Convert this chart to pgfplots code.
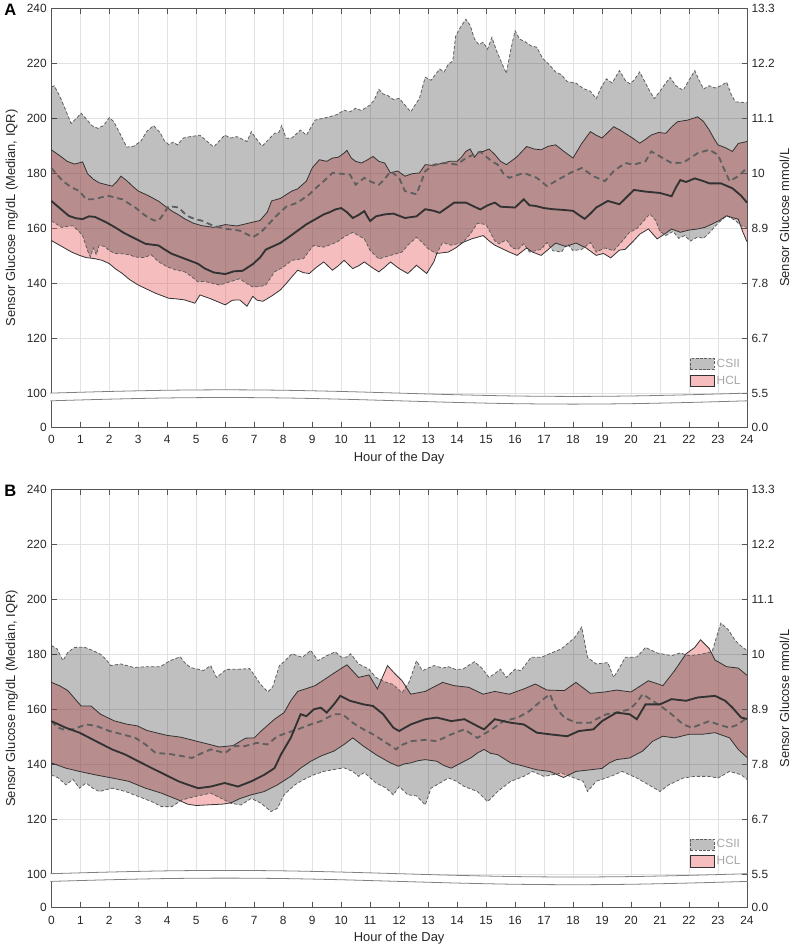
\documentclass[border=0pt]{standalone}
\usepackage{fontspec}
\setmainfont{Liberation Sans}
\usepackage{pgfplots}
\usepackage{pgfplotstable}
\pgfplotsset{compat=1.18}
\usepgfplotslibrary{fillbetween}

\definecolor{txt}{RGB}{38,38,38}
\definecolor{axcol}{RGB}{85,85,85}
\definecolor{gridc}{RGB}{226,226,226}
\definecolor{csiiline}{RGB}{95,95,95}
\definecolor{hclline}{RGB}{50,50,50}
\definecolor{hclfill}{RGB}{230,90,90}
\definecolor{hclpatch}{RGB}{245,189,189}
\definecolor{csiipatch}{RGB}{191,191,191}
\definecolor{legtxt}{RGB}{165,165,165}

% ---- panel A ----
\pgfplotstableread[row sep=\\]{x y\\
0 211.5\\ 0.1 212\\ 0.3 208\\ 0.5 203\\ 0.68 198.3\\ 0.85 200\\ 1.03 202\\ 1.2 200\\ 1.4 197.5\\ 1.6 196.5\\ 1.8 197.5\\ 2.0 200.4\\ 2.15 199\\ 2.35 195\\ 2.6 189.7\\ 2.85 190\\ 3.1 192\\ 3.3 195.5\\ 3.53 197.5\\ 3.75 195\\ 3.9 192\\ 4.05 190.6\\ 4.2 191.5\\ 4.35 190.5\\ 4.56 193\\ 4.8 193.5\\ 5.13 194\\ 5.35 192\\ 5.6 189.7\\ 5.8 192\\ 5.98 194\\ 6.2 193\\ 6.4 193.5\\ 6.6 192.5\\ 6.75 191.7\\ 6.9 195.3\\ 7.05 193\\ 7.27 190\\ 7.5 192.5\\ 7.7 194.7\\ 7.85 195\\ 7.95 197.5\\ 8.1 192.9\\ 8.3 193\\ 8.6 195.9\\ 8.8 194\\ 9.1 199.5\\ 9.3 200\\ 9.6 200.7\\ 9.85 201.5\\ 10.1 203.1\\ 10.3 202.5\\ 10.5 203.8\\ 10.7 203\\ 11.0 205\\ 11.15 207\\ 11.3 210.7\\ 11.45 209\\ 11.6 208.5\\ 11.8 207\\ 12.0 207.4\\ 12.2 205\\ 12.4 202.5\\ 12.55 205\\ 12.7 207.4\\ 12.9 215.1\\ 13.1 214\\ 13.4 218.1\\ 13.55 217\\ 13.7 219.9\\ 13.85 221\\ 13.95 230\\ 14.1 233\\ 14.3 236.2\\ 14.45 234\\ 14.6 229\\ 14.75 227\\ 14.9 227.8\\ 15.05 225.3\\ 15.2 229.6\\ 15.35 225\\ 15.55 220\\ 15.7 216.5\\ 15.85 225\\ 16.0 232\\ 16.15 229\\ 16.35 228\\ 16.55 226.5\\ 16.75 226\\ 16.95 222\\ 17.15 220\\ 17.4 217\\ 17.6 216\\ 17.8 213.5\\ 18.1 213\\ 18.35 211\\ 18.6 210\\ 18.8 207.3\\ 18.95 211\\ 19.15 214.5\\ 19.35 213\\ 19.6 217.5\\ 19.8 214\\ 19.96 212.7\\ 20.1 214\\ 20.3 217\\ 20.5 213\\ 20.65 210\\ 20.8 207.3\\ 21.0 210\\ 21.2 213\\ 21.35 215\\ 21.55 212\\ 21.8 210.3\\ 22.0 214\\ 22.2 217.5\\ 22.35 214\\ 22.5 210.8\\ 22.7 212\\ 22.9 211.2\\ 23.1 212\\ 23.3 213.3\\ 23.45 209\\ 23.6 206.1\\ 23.8 206\\ 24 205.8\\
}\cuA

\pgfplotstableread[row sep=\\]{x y\\
0 182.1\\ 0.4 177.3\\ 0.7 175\\ 0.97 173.7\\ 1.2 170.7\\ 1.5 170.7\\ 1.75 171.5\\ 2.0 171.9\\ 2.2 171.3\\ 2.45 170.7\\ 2.7 169\\ 2.9 167.7\\ 3.15 165.5\\ 3.35 164\\ 3.55 163\\ 3.7 162.9\\ 3.85 165\\ 4.05 168.3\\ 4.2 168\\ 4.4 167.7\\ 4.55 166\\ 4.7 164.6\\ 4.95 163.5\\ 5.2 162.9\\ 5.6 161\\ 6.0 160\\ 6.5 159.3\\ 6.75 158\\ 6.95 156.9\\ 7.2 158.5\\ 7.4 160.5\\ 7.7 164\\ 7.9 166\\ 8.1 168\\ 8.5 169.5\\ 8.9 172.5\\ 9.15 175\\ 9.4 177.3\\ 9.7 180.3\\ 10.0 180\\ 10.3 179.7\\ 10.5 176\\ 10.8 178.5\\ 11.05 177\\ 11.3 176\\ 11.5 178\\ 11.7 180.9\\ 12.0 178.5\\ 12.2 173.7\\ 12.6 172.5\\ 12.9 180.9\\ 13.2 183.3\\ 13.6 183.9\\ 14.0 183.3\\ 14.3 185.7\\ 14.8 188\\ 15.2 184.5\\ 15.4 183.3\\ 15.6 180\\ 15.8 178.5\\ 16.3 180.3\\ 16.75 178.5\\ 17.1 175.5\\ 17.4 177.3\\ 17.9 180.3\\ 18.3 182.1\\ 18.7 179.1\\ 19.1 177.3\\ 19.4 180.9\\ 19.8 183.9\\ 20.1 183.3\\ 20.5 184.5\\ 20.7 188.1\\ 21.1 185.7\\ 21.4 183.9\\ 21.8 184\\ 22.3 187.5\\ 22.7 188.7\\ 23.0 186.9\\ 23.2 182\\ 23.4 177.3\\ 23.7 179.1\\ 24 182.1\\
}\cmA

\pgfplotstableread[row sep=\\]{x y\\
0 162.9\\ 0.35 160.5\\ 0.74 161.1\\ 0.95 159\\ 1.08 157.5\\ 1.25 152\\ 1.35 149.7\\ 1.45 153\\ 1.55 150.5\\ 1.65 154\\ 1.85 153.5\\ 2.0 152\\ 2.2 151\\ 2.45 150.9\\ 2.7 150.5\\ 2.9 149.7\\ 3.2 149.5\\ 3.45 150.5\\ 3.7 148\\ 4.0 146.1\\ 4.3 145\\ 4.6 144.3\\ 4.85 142.5\\ 5.05 140.7\\ 5.3 140.8\\ 5.8 139.5\\ 6.1 140.5\\ 6.5 141.8\\ 6.75 140\\ 6.95 138.8\\ 7.2 139\\ 7.4 139.5\\ 7.7 144.3\\ 8.0 146\\ 8.3 148.5\\ 8.7 149.1\\ 8.9 152\\ 9.05 153.9\\ 9.4 153.3\\ 9.85 155.1\\ 10.1 157\\ 10.4 158.7\\ 10.8 156.3\\ 11.0 152.1\\ 11.3 149\\ 11.7 150.3\\ 12.1 151.5\\ 12.3 154\\ 12.6 156.9\\ 12.8 155\\ 13.0 152.7\\ 13.3 150.9\\ 13.5 155\\ 13.8 154\\ 14.2 155\\ 14.45 158\\ 14.7 162\\ 15.0 161.5\\ 15.3 155.6\\ 15.45 154.5\\ 15.7 156\\ 15.9 153\\ 16.1 152.5\\ 16.3 154.5\\ 16.5 151.5\\ 16.9 152.5\\ 17.1 155\\ 17.3 152\\ 17.6 151.5\\ 17.8 154.5\\ 18.0 152\\ 18.3 152.5\\ 18.6 155\\ 18.8 151.5\\ 19.1 153\\ 19.4 152\\ 19.7 155.5\\ 19.95 158.7\\ 20.2 160\\ 20.45 163\\ 20.65 165.4\\ 20.85 163\\ 21.0 159\\ 21.2 157.5\\ 21.45 159\\ 21.65 156.5\\ 21.85 157.5\\ 22.05 155.5\\ 22.3 157\\ 22.5 156.5\\ 22.75 159\\ 23.0 162\\ 23.3 164.7\\ 23.6 163\\ 23.8 161\\ 24 160.5\\
}\clA

\pgfplotstableread[row sep=\\]{x y\\
0 188.7\\ 0.3 186.5\\ 0.55 184.5\\ 0.8 183.5\\ 1.08 184.3\\ 1.25 180\\ 1.45 178\\ 1.65 176.7\\ 1.9 176\\ 2.1 175.5\\ 2.25 177\\ 2.4 179.1\\ 2.6 177.5\\ 2.8 175.5\\ 3.0 173.7\\ 3.35 172\\ 3.7 170\\ 3.95 168\\ 4.15 166.5\\ 4.4 165\\ 4.6 163.6\\ 4.9 162\\ 5.2 161.1\\ 5.6 160.5\\ 6.0 161.5\\ 6.4 161\\ 6.8 162\\ 7.2 163\\ 7.45 166\\ 7.6 170.1\\ 7.9 171\\ 8.3 173.7\\ 8.5 174.5\\ 8.8 177.3\\ 9.0 182.1\\ 9.25 185.1\\ 9.5 184.5\\ 9.7 185.7\\ 9.9 186\\ 10.1 187.5\\ 10.2 188.5\\ 10.35 185.7\\ 10.5 184.5\\ 10.7 183.9\\ 10.9 185\\ 11.1 186.3\\ 11.3 184.5\\ 11.5 183.9\\ 11.7 180.3\\ 11.95 181\\ 12.2 179.1\\ 12.45 180\\ 12.7 180.3\\ 12.9 183.3\\ 13.2 183\\ 13.5 183.9\\ 13.75 184.5\\ 14.0 184.5\\ 14.15 186\\ 14.3 188.1\\ 14.45 189\\ 14.6 186\\ 14.75 188\\ 14.9 188.1\\ 15.1 189\\ 15.3 187\\ 15.5 184.5\\ 15.7 183.3\\ 16.05 186\\ 16.4 189.9\\ 16.65 189\\ 16.9 188.7\\ 17.15 190\\ 17.4 190.5\\ 17.7 188\\ 18.0 185.7\\ 18.3 191\\ 18.6 195.3\\ 18.8 194\\ 19.0 193\\ 19.2 195\\ 19.4 197.1\\ 19.6 196\\ 19.8 194.7\\ 20.05 193\\ 20.3 191.1\\ 20.5 192.5\\ 20.7 194.1\\ 20.95 195\\ 21.2 194.7\\ 21.4 197\\ 21.6 198.9\\ 21.95 199.5\\ 22.3 200.7\\ 22.5 199\\ 22.7 195.9\\ 22.85 193\\ 23.0 190.5\\ 23.25 189.5\\ 23.5 188.1\\ 23.7 191\\ 24 191.7\\
}\huA

\pgfplotstableread[row sep=\\]{x y\\
0 170.1\\ 0.2 168.3\\ 0.6 164.7\\ 0.85 163.8\\ 1.08 163.5\\ 1.3 164.5\\ 1.5 164.3\\ 1.9 162.3\\ 2.2 160.5\\ 2.5 158.5\\ 2.8 156.9\\ 3.25 154.5\\ 3.7 153.9\\ 3.9 152.5\\ 4.15 150.9\\ 4.6 149.1\\ 5.05 147.3\\ 5.3 145.5\\ 5.6 144.1\\ 6.0 143.5\\ 6.3 144.5\\ 6.6 144.7\\ 6.95 147.1\\ 7.2 149.5\\ 7.4 152.4\\ 7.9 154.8\\ 8.2 157\\ 8.5 159.3\\ 8.8 161.6\\ 9.1 163.4\\ 9.4 165.2\\ 9.6 166\\ 9.8 167\\ 10.0 167.5\\ 10.2 166\\ 10.4 163.9\\ 10.6 165\\ 10.8 166.4\\ 10.9 164.5\\ 11.0 162.8\\ 11.2 164.5\\ 11.5 165.2\\ 11.8 165.5\\ 12.2 163.9\\ 12.6 164.5\\ 12.9 167.1\\ 13.2 166.5\\ 13.4 165.8\\ 13.7 168\\ 13.9 169.5\\ 14.3 169.5\\ 14.6 168\\ 14.8 167\\ 15.05 168.5\\ 15.3 169.5\\ 15.5 168\\ 16.0 167.7\\ 16.3 170.7\\ 16.5 168.5\\ 16.7 168.3\\ 17.0 167.5\\ 17.3 167.1\\ 17.7 166.8\\ 18.0 166.5\\ 18.2 165\\ 18.4 163.6\\ 18.6 165.5\\ 18.8 167.7\\ 19.2 170.1\\ 19.6 168.9\\ 19.85 171.5\\ 20.1 174.1\\ 20.5 173.5\\ 21.0 173\\ 21.4 171.8\\ 21.55 175\\ 21.7 177.7\\ 21.9 177\\ 22.2 178.3\\ 22.5 177.3\\ 22.7 176.5\\ 23.1 176.5\\ 23.5 174.7\\ 23.8 172\\ 24 169.5\\
}\hmA

\pgfplotstableread[row sep=\\]{x y\\
0 155.7\\ 0.4 153.3\\ 0.7 151.5\\ 0.97 150.3\\ 1.2 149.5\\ 1.5 149.1\\ 1.75 148.5\\ 2.0 147.3\\ 2.2 145.5\\ 2.45 143.7\\ 2.7 141.5\\ 3.0 139.5\\ 3.3 138\\ 3.6 136.5\\ 4.05 134.7\\ 4.3 134.5\\ 4.6 134.1\\ 4.95 132.9\\ 5.13 135.9\\ 5.5 134.5\\ 6.0 132.3\\ 6.25 134\\ 6.5 134.1\\ 6.75 131.8\\ 6.95 135.4\\ 7.1 134\\ 7.3 133.6\\ 7.6 135.5\\ 7.9 137.7\\ 8.1 140\\ 8.3 142.5\\ 8.5 144.9\\ 8.7 144\\ 8.9 143.7\\ 9.15 146\\ 9.4 147.9\\ 9.7 144.9\\ 9.9 146.5\\ 10.1 148.5\\ 10.4 145.5\\ 10.6 146.5\\ 10.8 147.9\\ 11.05 146\\ 11.3 144.3\\ 11.5 146\\ 11.7 147.9\\ 12.0 145.5\\ 12.3 143.7\\ 12.6 146.7\\ 12.95 143.7\\ 13.2 148\\ 13.3 151\\ 13.7 151.5\\ 13.95 153\\ 14.2 155\\ 14.5 156.3\\ 14.9 157.5\\ 15.1 155.6\\ 15.3 154\\ 15.5 153\\ 15.8 151.5\\ 16.07 150.3\\ 16.4 153\\ 16.6 151.5\\ 16.9 150.3\\ 17.15 152.5\\ 17.4 154.8\\ 17.75 153.5\\ 18.1 154.8\\ 18.45 153\\ 18.8 150.3\\ 19.05 151\\ 19.3 149.4\\ 19.6 152.2\\ 19.8 152.5\\ 20.1 155.7\\ 20.3 158\\ 20.6 159.9\\ 20.9 156.3\\ 21.15 158\\ 21.4 159.9\\ 21.7 158.7\\ 22.0 159.5\\ 22.3 159.9\\ 22.55 160.5\\ 22.8 161.7\\ 23.05 163\\ 23.3 164.7\\ 23.5 164\\ 23.7 163.5\\ 23.85 159\\ 24 155.3\\
}\hlA

% ---- panel B ----
\pgfplotstableread[row sep=\\]{x y\\
0 183.2\\ 0.2 182\\ 0.4 177.7\\ 0.57 180.7\\ 0.8 182.5\\ 1.14 182.6\\ 1.43 181.4\\ 1.7 180\\ 1.9 178\\ 2.05 175.9\\ 2.4 176.5\\ 2.85 175.2\\ 3.3 175.5\\ 3.76 175.5\\ 4.1 177.7\\ 4.45 179.1\\ 4.6 177\\ 4.8 175.2\\ 5.25 174.1\\ 5.5 175.9\\ 5.7 171.6\\ 6.04 174.5\\ 6.5 174.6\\ 6.84 174.8\\ 7.0 172.5\\ 7.2 169.3\\ 7.47 166.3\\ 7.64 168.2\\ 7.87 175.9\\ 8.05 177.5\\ 8.3 180.2\\ 8.66 178.9\\ 8.95 181.4\\ 9.2 177.7\\ 9.5 179.5\\ 9.8 180.9\\ 10.0 179\\ 10.17 178.9\\ 10.33 180.2\\ 10.6 176.5\\ 10.96 174.6\\ 11.2 171.6\\ 11.5 170\\ 11.8 169\\ 12.1 166\\ 12.35 170\\ 12.6 177.7\\ 12.8 174\\ 13.0 175\\ 13.2 175.9\\ 13.5 175\\ 13.7 175.5\\ 13.95 174.5\\ 14.2 174.6\\ 14.4 176\\ 14.6 177.3\\ 14.85 175\\ 15.1 171.6\\ 15.3 173\\ 15.5 174.6\\ 15.7 171.6\\ 16.0 174.6\\ 16.2 174\\ 16.55 178.9\\ 16.9 178.9\\ 17.3 180.7\\ 17.6 182\\ 17.8 183.8\\ 18.05 186\\ 18.3 189.9\\ 18.5 178.9\\ 18.8 176.5\\ 19.2 177\\ 19.4 171.6\\ 19.6 175\\ 19.8 178.9\\ 20.2 179\\ 20.5 182.5\\ 20.9 180.5\\ 21.4 179.5\\ 21.7 180.5\\ 22.0 179.5\\ 22.4 180\\ 22.8 181\\ 23.0 188\\ 23.1 191.4\\ 23.35 189\\ 23.6 185\\ 23.8 183\\ 24 181.4\\
}\cuB

\pgfplotstableread[row sep=\\]{x y\\
0 155.7\\ 0.2 153.5\\ 0.4 152.7\\ 0.75 152.7\\ 1.2 154.5\\ 1.54 154\\ 2.0 152.1\\ 2.45 150.9\\ 2.9 149.6\\ 3.25 147.2\\ 3.6 144.1\\ 4.05 143.8\\ 4.5 143\\ 4.85 142.3\\ 5.2 144.1\\ 5.5 145.4\\ 6.0 144.1\\ 6.3 146.6\\ 6.67 146.6\\ 7.1 147.8\\ 7.45 147.2\\ 7.8 150.2\\ 8.15 151.5\\ 8.5 152.7\\ 8.95 154.5\\ 9.3 155.7\\ 9.75 158.2\\ 10.05 158.2\\ 10.4 155.1\\ 10.77 152.7\\ 11.1 150.9\\ 11.56 147.8\\ 11.9 145.4\\ 12.0 146.6\\ 12.4 148.4\\ 12.9 148.9\\ 13.3 148.4\\ 13.8 150.9\\ 14.25 152.7\\ 14.7 149.6\\ 15.2 152.7\\ 15.6 155.7\\ 16.1 157\\ 16.5 159.4\\ 16.9 163.1\\ 17.2 165.5\\ 17.4 160.6\\ 17.7 157\\ 18.1 155.1\\ 18.6 155.1\\ 18.8 156.4\\ 19.15 158.2\\ 19.5 158.8\\ 19.95 160\\ 20.2 162.5\\ 20.4 165.5\\ 20.75 163.1\\ 21.1 160.6\\ 21.4 158.2\\ 21.8 154.5\\ 22.1 153.3\\ 22.7 155.7\\ 23.0 154.5\\ 23.4 153.3\\ 23.7 154.5\\ 24 157\\
}\cmB

\pgfplotstableread[row sep=\\]{x y\\
0 136.2\\ 0.25 135\\ 0.5 132.5\\ 0.75 134.5\\ 0.97 131.3\\ 1.2 133.2\\ 1.43 131.3\\ 1.65 130.1\\ 2.1 131.3\\ 2.56 130.1\\ 3.0 128.3\\ 3.47 126.4\\ 3.8 124.6\\ 4.16 124.6\\ 4.5 127\\ 4.96 128.3\\ 5.5 129.5\\ 5.86 127.6\\ 6.2 125.8\\ 6.55 125.2\\ 6.9 127.6\\ 7.24 125.8\\ 7.58 122.8\\ 7.8 124\\ 8.03 128.9\\ 8.4 132.5\\ 8.7 134.4\\ 9.06 136.2\\ 9.4 137.4\\ 9.75 138.1\\ 10.1 138.7\\ 10.4 137.4\\ 10.6 135.6\\ 10.8 137\\ 11.2 133.2\\ 11.56 131.3\\ 11.8 128.9\\ 12.0 131.9\\ 12.3 128.9\\ 12.6 128.5\\ 12.9 125.2\\ 13.1 131.3\\ 13.7 135\\ 13.95 134\\ 14.25 131.9\\ 14.7 130.1\\ 15.05 126.4\\ 15.4 130.1\\ 15.85 133.8\\ 16.3 135.6\\ 16.6 137.4\\ 17.0 135.6\\ 17.3 136.2\\ 17.6 136.8\\ 17.9 135.6\\ 18.35 133.8\\ 18.5 130.1\\ 18.8 133.8\\ 19.3 135.6\\ 19.7 137.4\\ 20.2 135\\ 20.5 133.2\\ 21.0 130.1\\ 21.3 132.5\\ 21.8 135\\ 22.2 135.6\\ 22.7 135.6\\ 23.0 135\\ 23.4 137.4\\ 23.8 136.2\\ 24 134.5\\
}\clB

\pgfplotstableread[row sep=\\]{x y\\
0 169.8\\ 0.3 168.5\\ 0.57 166.8\\ 0.8 164\\ 1.03 161.2\\ 1.37 161.2\\ 1.7 158.2\\ 2.17 155.8\\ 2.6 154.6\\ 2.96 154\\ 3.3 152.3\\ 4.0 150.5\\ 4.45 149.9\\ 4.9 148.7\\ 5.35 147.5\\ 5.8 146.3\\ 6.27 146.8\\ 6.7 149.5\\ 7.0 149.6\\ 7.24 152.1\\ 7.7 156.4\\ 8.03 158.8\\ 8.26 163.1\\ 8.5 166.5\\ 9.1 168.6\\ 9.7 172.8\\ 10.2 176.2\\ 10.6 171.6\\ 10.96 172.5\\ 11.25 167.4\\ 11.6 175.9\\ 11.85 173\\ 12.1 170.4\\ 12.4 165.5\\ 12.9 166.5\\ 13.5 169.8\\ 13.9 168.6\\ 14.4 168\\ 14.9 165.5\\ 15.3 166.5\\ 15.8 165.5\\ 16.3 167.4\\ 16.7 169.2\\ 17.1 167\\ 17.7 166.8\\ 18.1 169.8\\ 18.6 165.8\\ 19.1 166.3\\ 19.5 167\\ 20.0 166.3\\ 20.6 170.4\\ 21.1 168.6\\ 21.5 174\\ 21.9 180.2\\ 22.2 182.5\\ 22.4 185.3\\ 22.7 182.1\\ 22.9 177.9\\ 23.3 175.5\\ 23.7 175\\ 24 172.4\\
}\huB

\pgfplotstableread[row sep=\\]{x y\\
0 155.7\\ 0.5 153.3\\ 0.97 151.5\\ 1.54 148.4\\ 2.1 145.4\\ 2.56 143.5\\ 3.0 141.1\\ 3.47 138.6\\ 3.93 136.2\\ 4.39 133.8\\ 4.73 132.5\\ 5.07 131.3\\ 5.5 131.9\\ 5.98 133.2\\ 6.44 131.9\\ 6.9 133.8\\ 7.35 136.2\\ 7.7 138.6\\ 7.92 143.5\\ 8.26 149.6\\ 8.6 158.2\\ 8.8 157.5\\ 9.06 160\\ 9.3 160.6\\ 9.5 158.8\\ 9.75 161.8\\ 9.97 164.9\\ 10.3 163.1\\ 10.77 161.8\\ 11.1 161.2\\ 11.45 158.2\\ 11.8 153.3\\ 12.0 152.1\\ 12.4 154.5\\ 12.9 156.4\\ 13.3 157\\ 13.8 155.7\\ 14.25 156.4\\ 14.7 153.9\\ 14.93 152.7\\ 15.3 156.4\\ 15.85 155.1\\ 16.3 154.5\\ 16.75 151.5\\ 17.2 150.9\\ 17.8 150.2\\ 18.2 152.1\\ 18.7 152.7\\ 19.0 155.7\\ 19.5 158.8\\ 19.95 158.2\\ 20.2 156.4\\ 20.5 161.8\\ 21.0 161.8\\ 21.4 163.7\\ 21.9 163.1\\ 22.3 164.3\\ 22.9 164.9\\ 23.25 163.1\\ 23.5 160.6\\ 23.8 157\\ 24 156.5\\
}\hmB

\pgfplotstableread[row sep=\\]{x y\\
0 140.5\\ 0.5 138.6\\ 0.97 137.4\\ 1.5 136.2\\ 2.1 135\\ 2.67 133.8\\ 3.25 131.3\\ 3.8 129.5\\ 4.39 127\\ 4.7 125.5\\ 5.0 125\\ 5.5 125.3\\ 5.9 125.5\\ 6.2 126\\ 6.5 127.5\\ 6.9 128.9\\ 7.35 130.1\\ 7.8 132.5\\ 8.26 135.6\\ 8.6 138.6\\ 8.95 141.1\\ 9.3 143\\ 9.75 144.8\\ 10.1 147.2\\ 10.4 149.6\\ 10.77 146.6\\ 11.2 143.5\\ 11.7 140.5\\ 11.97 139.3\\ 12.2 140.2\\ 12.4 140.5\\ 12.65 141.3\\ 12.9 141.7\\ 13.3 141.1\\ 13.55 139.5\\ 13.8 138.6\\ 14.25 141.1\\ 14.5 142.5\\ 14.7 144.1\\ 14.93 145.4\\ 15.15 144\\ 15.4 143.5\\ 15.85 140.5\\ 16.3 139.3\\ 16.75 138\\ 17.2 137.4\\ 17.67 135.2\\ 18.1 137.4\\ 18.6 138\\ 19.0 138.5\\ 19.25 140.5\\ 19.5 141.7\\ 19.95 142.3\\ 20.4 144.8\\ 20.75 148.4\\ 21.1 150.2\\ 21.5 149.6\\ 22.0 150.9\\ 22.45 150.9\\ 22.9 151.5\\ 23.4 149.6\\ 23.7 145.4\\ 24 142.5\\
}\hlB

% axis break band
\pgfplotstableread[row sep=\\]{x y\\
-0.03 100.2\\ 2 100.8\\ 4 101.24\\ 6 101.4\\ 8 101.24\\ 10 100.8\\ 12 100.2\\ 14 99.6\\ 16 99.16\\ 18 99.0\\ 20 99.16\\ 22 99.6\\ 24.03 100.2\\
}\brUp
\pgfplotstableread[row sep=\\]{x y\\
-0.03 97.4\\ 2 98.0\\ 4 98.44\\ 6 98.6\\ 8 98.44\\ 10 98.0\\ 12 97.4\\ 14 96.8\\ 16 96.36\\ 18 96.2\\ 20 96.36\\ 22 96.8\\ 24.03 97.4\\
}\brLow
\pgfplotstableread[row sep=\\]{x y\\
0.03 97.5\\ 2 98.1\\ 4 98.54\\ 6 98.7\\ 8 98.54\\ 10 98.1\\ 12 97.5\\ 14 96.9\\ 16 96.46\\ 18 96.3\\ 20 96.46\\ 22 96.9\\ 23.97 97.5\\
}\brCovTop
\pgfplotstableread[row sep=\\]{x y\\
0.03 90.2\\ 23.97 90.2\\
}\brCovBot

\pgfplotsset{
  gpanel/.style={
    scale only axis, width=526.5pt, height=316.5pt,
    xmin=0, xmax=24, ymin=87.9, ymax=240, clip=false,
    xtick={0,...,24}, ytick={87.9,100,120,140,160,180,200,220,240},
    tick align=inside, major tick length=4pt,
    every tick/.style={axcol, line width=0.5pt},
    axis line style={axcol, line width=0.6pt},
    ticklabel style={font=\fontsize{9}{10}\selectfont, text=txt},
    /pgf/number format/assume math mode=true,
    label style={font=\fontsize{9.8}{11}\selectfont, text=txt},
  },
  gleft/.style={gpanel, ytick pos=left,
    xmajorgrids, ymajorgrids, grid style={gridc, line width=0.5pt},
    yticklabels={0,100,120,140,160,180,200,220,240},
    xticklabel style={yshift=-3pt},
    xlabel={Hour of the Day},
    ylabel={Sensor Glucose mg/dL (Median, IQR)},
    xlabel style={at={(rel axis cs:0.5,0)}, anchor=center, yshift=-23.5pt},
    ylabel style={at={(rel axis cs:0,0.5)}, anchor=center, yshift=30pt},
    legend style={at={(0.994,0.168)}, anchor=north east, draw=none, fill=none,
      inner sep=0pt, row sep=2pt, font=\fontsize{9}{10}\selectfont, text=legtxt,
      nodes={inner sep=1.5pt}},
    legend cell align=left,
  },
  gright/.style={gpanel, axis y line*=right, axis x line=none,
    yticklabels={0.0,5.5,6.7,7.8,8.9,10,11.1,12.2,13.3},
    ylabel={Sensor Glucose mmol/L},
    ylabel style={at={(rel axis cs:1,0.5)}, anchor=center, yshift=-28.5pt},
  },
  boxlegend/.style={legend image code/.code={\draw[##1] (0pt,-4.3pt) rectangle (18pt,4.3pt);}},
  csiiedge/.style={csiiline, line width=0.6pt, dash pattern=on 2.5pt off 1.5pt},
  hcledge/.style={hclline, line width=0.6pt},
  csiimed/.style={csiiline, line width=1.4pt, dash pattern=on 4.5pt off 3pt},
  hclmed/.style={hclline, line width=1.4pt},
}

\begin{document}
\begin{tikzpicture}

% ================= panel A =================
\begin{axis}[gright, at={(0,0)}, anchor=north west]
\addplot[draw=none, forget plot] table {\brUp};
\end{axis}
\begin{axis}[gleft, at={(0,0)}, anchor=north west]
\addplot[draw=none, name path=cu, forget plot] table {\cuA};
\addplot[draw=none, name path=cl, forget plot] table {\clA};
\addplot[draw=none, name path=hu, forget plot] table {\huA};
\addplot[draw=none, name path=hl, forget plot] table {\hlA};
\addplot[draw=none, fill=hclfill, fill opacity=0.4, forget plot] fill between[of=hu and hl];
\addplot[draw=none, fill=black, fill opacity=0.25, forget plot] fill between[of=cu and cl];
\addplot[csiiedge, forget plot] table {\cuA};
\addplot[csiiedge, forget plot] table {\clA};
\addplot[hcledge, forget plot] table {\huA};
\addplot[hcledge, forget plot] table {\hlA};
\addplot[csiimed, forget plot] table {\cmA};
\addplot[hclmed, forget plot] table {\hmA};
\addplot[draw=none, smooth, name path=ct, forget plot] table {\brCovTop};
\addplot[draw=none, name path=cb, forget plot] table {\brCovBot};
\addplot[draw=none, fill=white, forget plot] fill between[of=ct and cb];
\addplot[draw=none, smooth, name path=bu, forget plot] table {\brUp};
\addplot[draw=none, smooth, name path=bl, forget plot] table {\brLow};
\addplot[draw=none, fill=white, forget plot] fill between[of=bu and bl];
\addplot[gray, line width=0.6pt, smooth, forget plot] table {\brUp};
\addplot[gray, line width=0.6pt, smooth, forget plot] table {\brLow};
\addlegendimage{boxlegend, fill=csiipatch, draw=csiiline, line width=0.7pt, dash pattern=on 2pt off 1.2pt}
\addlegendentry{CSII}
\addlegendimage{boxlegend, fill=hclpatch, draw=hclline, line width=0.8pt}
\addlegendentry{HCL}
\node[font=\bfseries\fontsize{12.5}{13}\selectfont, text=black, xshift=-31pt, yshift=-1pt] at (rel axis cs:0,1) {A};
\end{axis}

% ================= panel B =================
\begin{axis}[gright, at={(0,-363.75pt)}, anchor=north west]
\addplot[draw=none, forget plot] table {\brUp};
\end{axis}
\begin{axis}[gleft, at={(0,-363.75pt)}, anchor=north west]
\addplot[draw=none, name path=cu, forget plot] table {\cuB};
\addplot[draw=none, name path=cl, forget plot] table {\clB};
\addplot[draw=none, name path=hu, forget plot] table {\huB};
\addplot[draw=none, name path=hl, forget plot] table {\hlB};
\addplot[draw=none, fill=hclfill, fill opacity=0.4, forget plot] fill between[of=hu and hl];
\addplot[draw=none, fill=black, fill opacity=0.25, forget plot] fill between[of=cu and cl];
\addplot[csiiedge, forget plot] table {\cuB};
\addplot[csiiedge, forget plot] table {\clB};
\addplot[hcledge, forget plot] table {\huB};
\addplot[hcledge, forget plot] table {\hlB};
\addplot[csiimed, forget plot] table {\cmB};
\addplot[hclmed, forget plot] table {\hmB};
\addplot[draw=none, smooth, name path=ct, forget plot] table {\brCovTop};
\addplot[draw=none, name path=cb, forget plot] table {\brCovBot};
\addplot[draw=none, fill=white, forget plot] fill between[of=ct and cb];
\addplot[draw=none, smooth, name path=bu, forget plot] table {\brUp};
\addplot[draw=none, smooth, name path=bl, forget plot] table {\brLow};
\addplot[draw=none, fill=white, forget plot] fill between[of=bu and bl];
\addplot[gray, line width=0.6pt, smooth, forget plot] table {\brUp};
\addplot[gray, line width=0.6pt, smooth, forget plot] table {\brLow};
\addlegendimage{boxlegend, fill=csiipatch, draw=csiiline, line width=0.7pt, dash pattern=on 2pt off 1.2pt}
\addlegendentry{CSII}
\addlegendimage{boxlegend, fill=hclpatch, draw=hclline, line width=0.8pt}
\addlegendentry{HCL}
\node[font=\bfseries\fontsize{12.5}{13}\selectfont, text=black, xshift=-31pt, yshift=-1pt] at (rel axis cs:0,1) {B};
\end{axis}

\path (-37.5pt,4.5pt) rectangle (562.5pt,-707.25pt);
\end{tikzpicture}
\end{document}
